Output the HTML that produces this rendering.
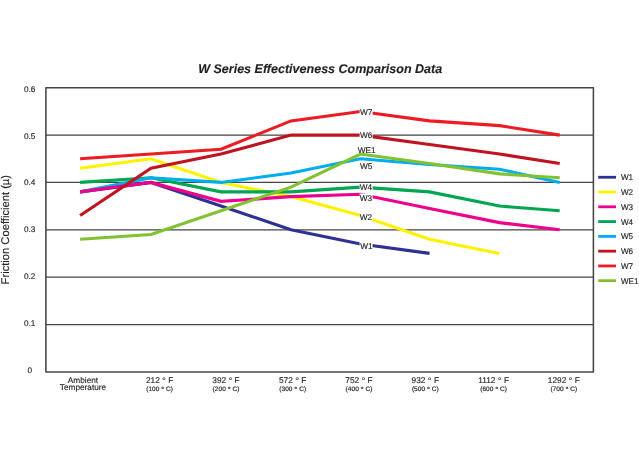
<!DOCTYPE html>
<html lang="en"><head><meta charset="utf-8"><title>W Series Effectiveness Comparison Data</title>
<style>html,body{margin:0;padding:0;background:#fff}svg{display:block;will-change:transform}text{font-family:"Liberation Sans",sans-serif;fill:#231f20;stroke:#231f20;stroke-width:.14px;text-rendering:geometricPrecision}</style></head><body>
<svg width="639" height="455" viewBox="0 0 639 455">
<rect width="639" height="455" fill="#fff"/>
<text x="320.2" y="73.3" text-anchor="middle" font-size="12.6" font-weight="bold" font-style="italic" textLength="244" lengthAdjust="spacingAndGlyphs">W Series Effectiveness Comparison Data</text>
<line x1="45.9" y1="135.07" x2="593.4" y2="135.07" stroke="#454545" stroke-width="1.3"/>
<line x1="45.9" y1="182.43" x2="593.4" y2="182.43" stroke="#454545" stroke-width="1.3"/>
<line x1="45.9" y1="229.8" x2="593.4" y2="229.8" stroke="#454545" stroke-width="1.3"/>
<line x1="45.9" y1="277.17" x2="593.4" y2="277.17" stroke="#454545" stroke-width="1.3"/>
<line x1="45.9" y1="324.53" x2="593.4" y2="324.53" stroke="#454545" stroke-width="1.3"/>
<polyline points="80.1,191.88 151.0,182.42 221.0,206.08 291.0,229.74 360.5,243.94 429.5,253.4" fill="none" stroke="#2E3192" stroke-width="3.1" stroke-linejoin="miter" stroke-linecap="butt"/>
<polyline points="80.1,168.22 151.0,158.76 221.0,182.42 291.0,196.62 360.5,215.54 429.5,239.2 499.5,253.4" fill="none" stroke="#FFF200" stroke-width="3.1" stroke-linejoin="miter" stroke-linecap="butt"/>
<polyline points="80.1,182.42 151.0,177.69 221.0,191.88 291.0,191.88 360.5,187.15 429.5,191.88 499.5,206.08 559.7,210.81" fill="none" stroke="#00A651" stroke-width="3.1" stroke-linejoin="miter" stroke-linecap="butt"/>
<polyline points="80.1,191.88 151.0,177.69 221.0,182.42 291.0,172.96 360.5,158.76 429.5,164.44 499.5,169.17 559.7,182.42" fill="none" stroke="#00AEEF" stroke-width="3.1" stroke-linejoin="miter" stroke-linecap="butt"/>
<polyline points="80.1,191.88 151.0,182.42 221.0,201.35 291.0,196.62 360.5,194.25 429.5,208.45 499.5,222.64 559.7,229.74" fill="none" stroke="#EC008C" stroke-width="3.1" stroke-linejoin="miter" stroke-linecap="butt"/>
<polyline points="80.1,215.54 151.0,168.22 221.0,154.03 291.0,135.1 360.5,135.1 429.5,144.56 499.5,154.03 559.7,163.49" fill="none" stroke="#C0121F" stroke-width="3.1" stroke-linejoin="miter" stroke-linecap="butt"/>
<polyline points="80.1,158.76 151.0,154.03 221.0,149.3 291.0,120.9 360.5,111.44 429.5,120.9 499.5,125.64 559.7,135.1" fill="none" stroke="#ED1C24" stroke-width="3.1" stroke-linejoin="miter" stroke-linecap="butt"/>
<polyline points="80.1,239.2 151.0,234.47 221.0,210.81 291.0,187.15 360.5,154.03 429.5,163.49 499.5,173.9 559.7,177.69" fill="none" stroke="#82C130" stroke-width="3.1" stroke-linejoin="miter" stroke-linecap="butt"/>
<rect x="45.9" y="87.7" width="547.5" height="284.2" fill="none" stroke="#454545" stroke-width="1.55" stroke-linejoin="round"/>
<rect x="359.6" y="107.8" width="13" height="8.4" fill="#fff"/>
<rect x="359.6" y="130.8" width="13" height="8.4" fill="#fff"/>
<rect x="359.6" y="183.0" width="13" height="8.4" fill="#fff"/>
<rect x="359.6" y="193.5" width="13" height="8.4" fill="#fff"/>
<rect x="359.6" y="213.3" width="13" height="8.4" fill="#fff"/>
<rect x="359.6" y="241.4" width="13" height="8.4" fill="#fff"/>
<text x="366.2" y="114.9" text-anchor="middle" font-size="8.25">W7</text>
<text x="366.2" y="137.9" text-anchor="middle" font-size="8.25">W6</text>
<text x="366.6" y="153.4" text-anchor="middle" font-size="8.25">WE1</text>
<text x="366.2" y="169.4" text-anchor="middle" font-size="8.25">W5</text>
<text x="366.0" y="190.1" text-anchor="middle" font-size="8.25">W4</text>
<text x="366.0" y="200.6" text-anchor="middle" font-size="8.25">W3</text>
<text x="366.0" y="220.4" text-anchor="middle" font-size="8.25">W2</text>
<text x="366.4" y="248.5" text-anchor="middle" font-size="8.25">W1</text>
<text x="29.7" y="91.75" text-anchor="middle" font-size="8.25">0.6</text>
<text x="29.7" y="138.55" text-anchor="middle" font-size="8.25">0.5</text>
<text x="29.7" y="185.35" text-anchor="middle" font-size="8.25">0.4</text>
<text x="29.7" y="232.15" text-anchor="middle" font-size="8.25">0.3</text>
<text x="29.7" y="278.95" text-anchor="middle" font-size="8.25">0.2</text>
<text x="29.7" y="325.75" text-anchor="middle" font-size="8.25">0.1</text>
<text x="29.7" y="372.55" text-anchor="middle" font-size="8.25">0</text>
<text transform="translate(8.8,229.7) rotate(-90)" text-anchor="middle" font-size="11.2">Friction Coefficient (µ)</text>
<text x="83" y="382.9" text-anchor="middle" font-size="8.25">Ambient</text>
<text x="83" y="389.9" text-anchor="middle" font-size="8.25">Temperature</text>
<text x="159.6" y="382.8" text-anchor="middle" font-size="8.3">212 <tspan dy="1.3" font-size="9.6">°</tspan><tspan dy="-1.3"> F</tspan></text>
<text x="159.6" y="390.7" text-anchor="middle" font-size="6.5" textLength="26.8" lengthAdjust="spacing" style="stroke-width:.18px">(100 <tspan dy="0.9" font-size="7.4">°</tspan><tspan dy="-0.9"> C)</tspan></text>
<text x="226" y="382.8" text-anchor="middle" font-size="8.3">392 <tspan dy="1.3" font-size="9.6">°</tspan><tspan dy="-1.3"> F</tspan></text>
<text x="226" y="390.7" text-anchor="middle" font-size="6.5" textLength="26.8" lengthAdjust="spacing" style="stroke-width:.18px">(200 <tspan dy="0.9" font-size="7.4">°</tspan><tspan dy="-0.9"> C)</tspan></text>
<text x="292.7" y="382.8" text-anchor="middle" font-size="8.3">572 <tspan dy="1.3" font-size="9.6">°</tspan><tspan dy="-1.3"> F</tspan></text>
<text x="292.7" y="390.7" text-anchor="middle" font-size="6.5" textLength="26.8" lengthAdjust="spacing" style="stroke-width:.18px">(300 <tspan dy="0.9" font-size="7.4">°</tspan><tspan dy="-0.9"> C)</tspan></text>
<text x="359" y="382.8" text-anchor="middle" font-size="8.3">752 <tspan dy="1.3" font-size="9.6">°</tspan><tspan dy="-1.3"> F</tspan></text>
<text x="359" y="390.7" text-anchor="middle" font-size="6.5" textLength="26.8" lengthAdjust="spacing" style="stroke-width:.18px">(400 <tspan dy="0.9" font-size="7.4">°</tspan><tspan dy="-0.9"> C)</tspan></text>
<text x="425.3" y="382.8" text-anchor="middle" font-size="8.3">932 <tspan dy="1.3" font-size="9.6">°</tspan><tspan dy="-1.3"> F</tspan></text>
<text x="425.3" y="390.7" text-anchor="middle" font-size="6.5" textLength="26.8" lengthAdjust="spacing" style="stroke-width:.18px">(500 <tspan dy="0.9" font-size="7.4">°</tspan><tspan dy="-0.9"> C)</tspan></text>
<text x="493.6" y="382.8" text-anchor="middle" font-size="8.3">1112 <tspan dy="1.3" font-size="9.6">°</tspan><tspan dy="-1.3"> F</tspan></text>
<text x="493.6" y="390.7" text-anchor="middle" font-size="6.5" textLength="26.8" lengthAdjust="spacing" style="stroke-width:.18px">(600 <tspan dy="0.9" font-size="7.4">°</tspan><tspan dy="-0.9"> C)</tspan></text>
<text x="563.8" y="382.8" text-anchor="middle" font-size="8.3">1292 <tspan dy="1.3" font-size="9.6">°</tspan><tspan dy="-1.3"> F</tspan></text>
<text x="563.8" y="390.7" text-anchor="middle" font-size="6.5" textLength="26.8" lengthAdjust="spacing" style="stroke-width:.18px">(700 <tspan dy="0.9" font-size="7.4">°</tspan><tspan dy="-0.9"> C)</tspan></text>
<line x1="598.2" y1="177.25" x2="616" y2="177.25" stroke="#2E3192" stroke-width="2.8"/>
<text x="620.9" y="180.25" font-size="8.25" textLength="12.2" lengthAdjust="spacingAndGlyphs">W1</text>
<line x1="598.2" y1="192.03" x2="616" y2="192.03" stroke="#FFF200" stroke-width="2.8"/>
<text x="620.9" y="195.03" font-size="8.25" textLength="12.2" lengthAdjust="spacingAndGlyphs">W2</text>
<line x1="598.2" y1="206.81" x2="616" y2="206.81" stroke="#EC008C" stroke-width="2.8"/>
<text x="620.9" y="209.81" font-size="8.25" textLength="12.2" lengthAdjust="spacingAndGlyphs">W3</text>
<line x1="598.2" y1="221.59" x2="616" y2="221.59" stroke="#00A651" stroke-width="2.8"/>
<text x="620.9" y="224.59" font-size="8.25" textLength="12.2" lengthAdjust="spacingAndGlyphs">W4</text>
<line x1="598.2" y1="236.37" x2="616" y2="236.37" stroke="#00AEEF" stroke-width="2.8"/>
<text x="620.9" y="239.37" font-size="8.25" textLength="12.2" lengthAdjust="spacingAndGlyphs">W5</text>
<line x1="598.2" y1="251.15" x2="616" y2="251.15" stroke="#C0121F" stroke-width="2.8"/>
<text x="620.9" y="254.15" font-size="8.25" textLength="12.2" lengthAdjust="spacingAndGlyphs">W6</text>
<line x1="598.2" y1="265.93" x2="616" y2="265.93" stroke="#ED1C24" stroke-width="2.8"/>
<text x="620.9" y="268.93" font-size="8.25" textLength="12.2" lengthAdjust="spacingAndGlyphs">W7</text>
<line x1="598.2" y1="280.71" x2="616" y2="280.71" stroke="#82C130" stroke-width="2.8"/>
<text x="620.9" y="283.71" font-size="8.25" textLength="17.5" lengthAdjust="spacingAndGlyphs">WE1</text>
</svg></body></html>
